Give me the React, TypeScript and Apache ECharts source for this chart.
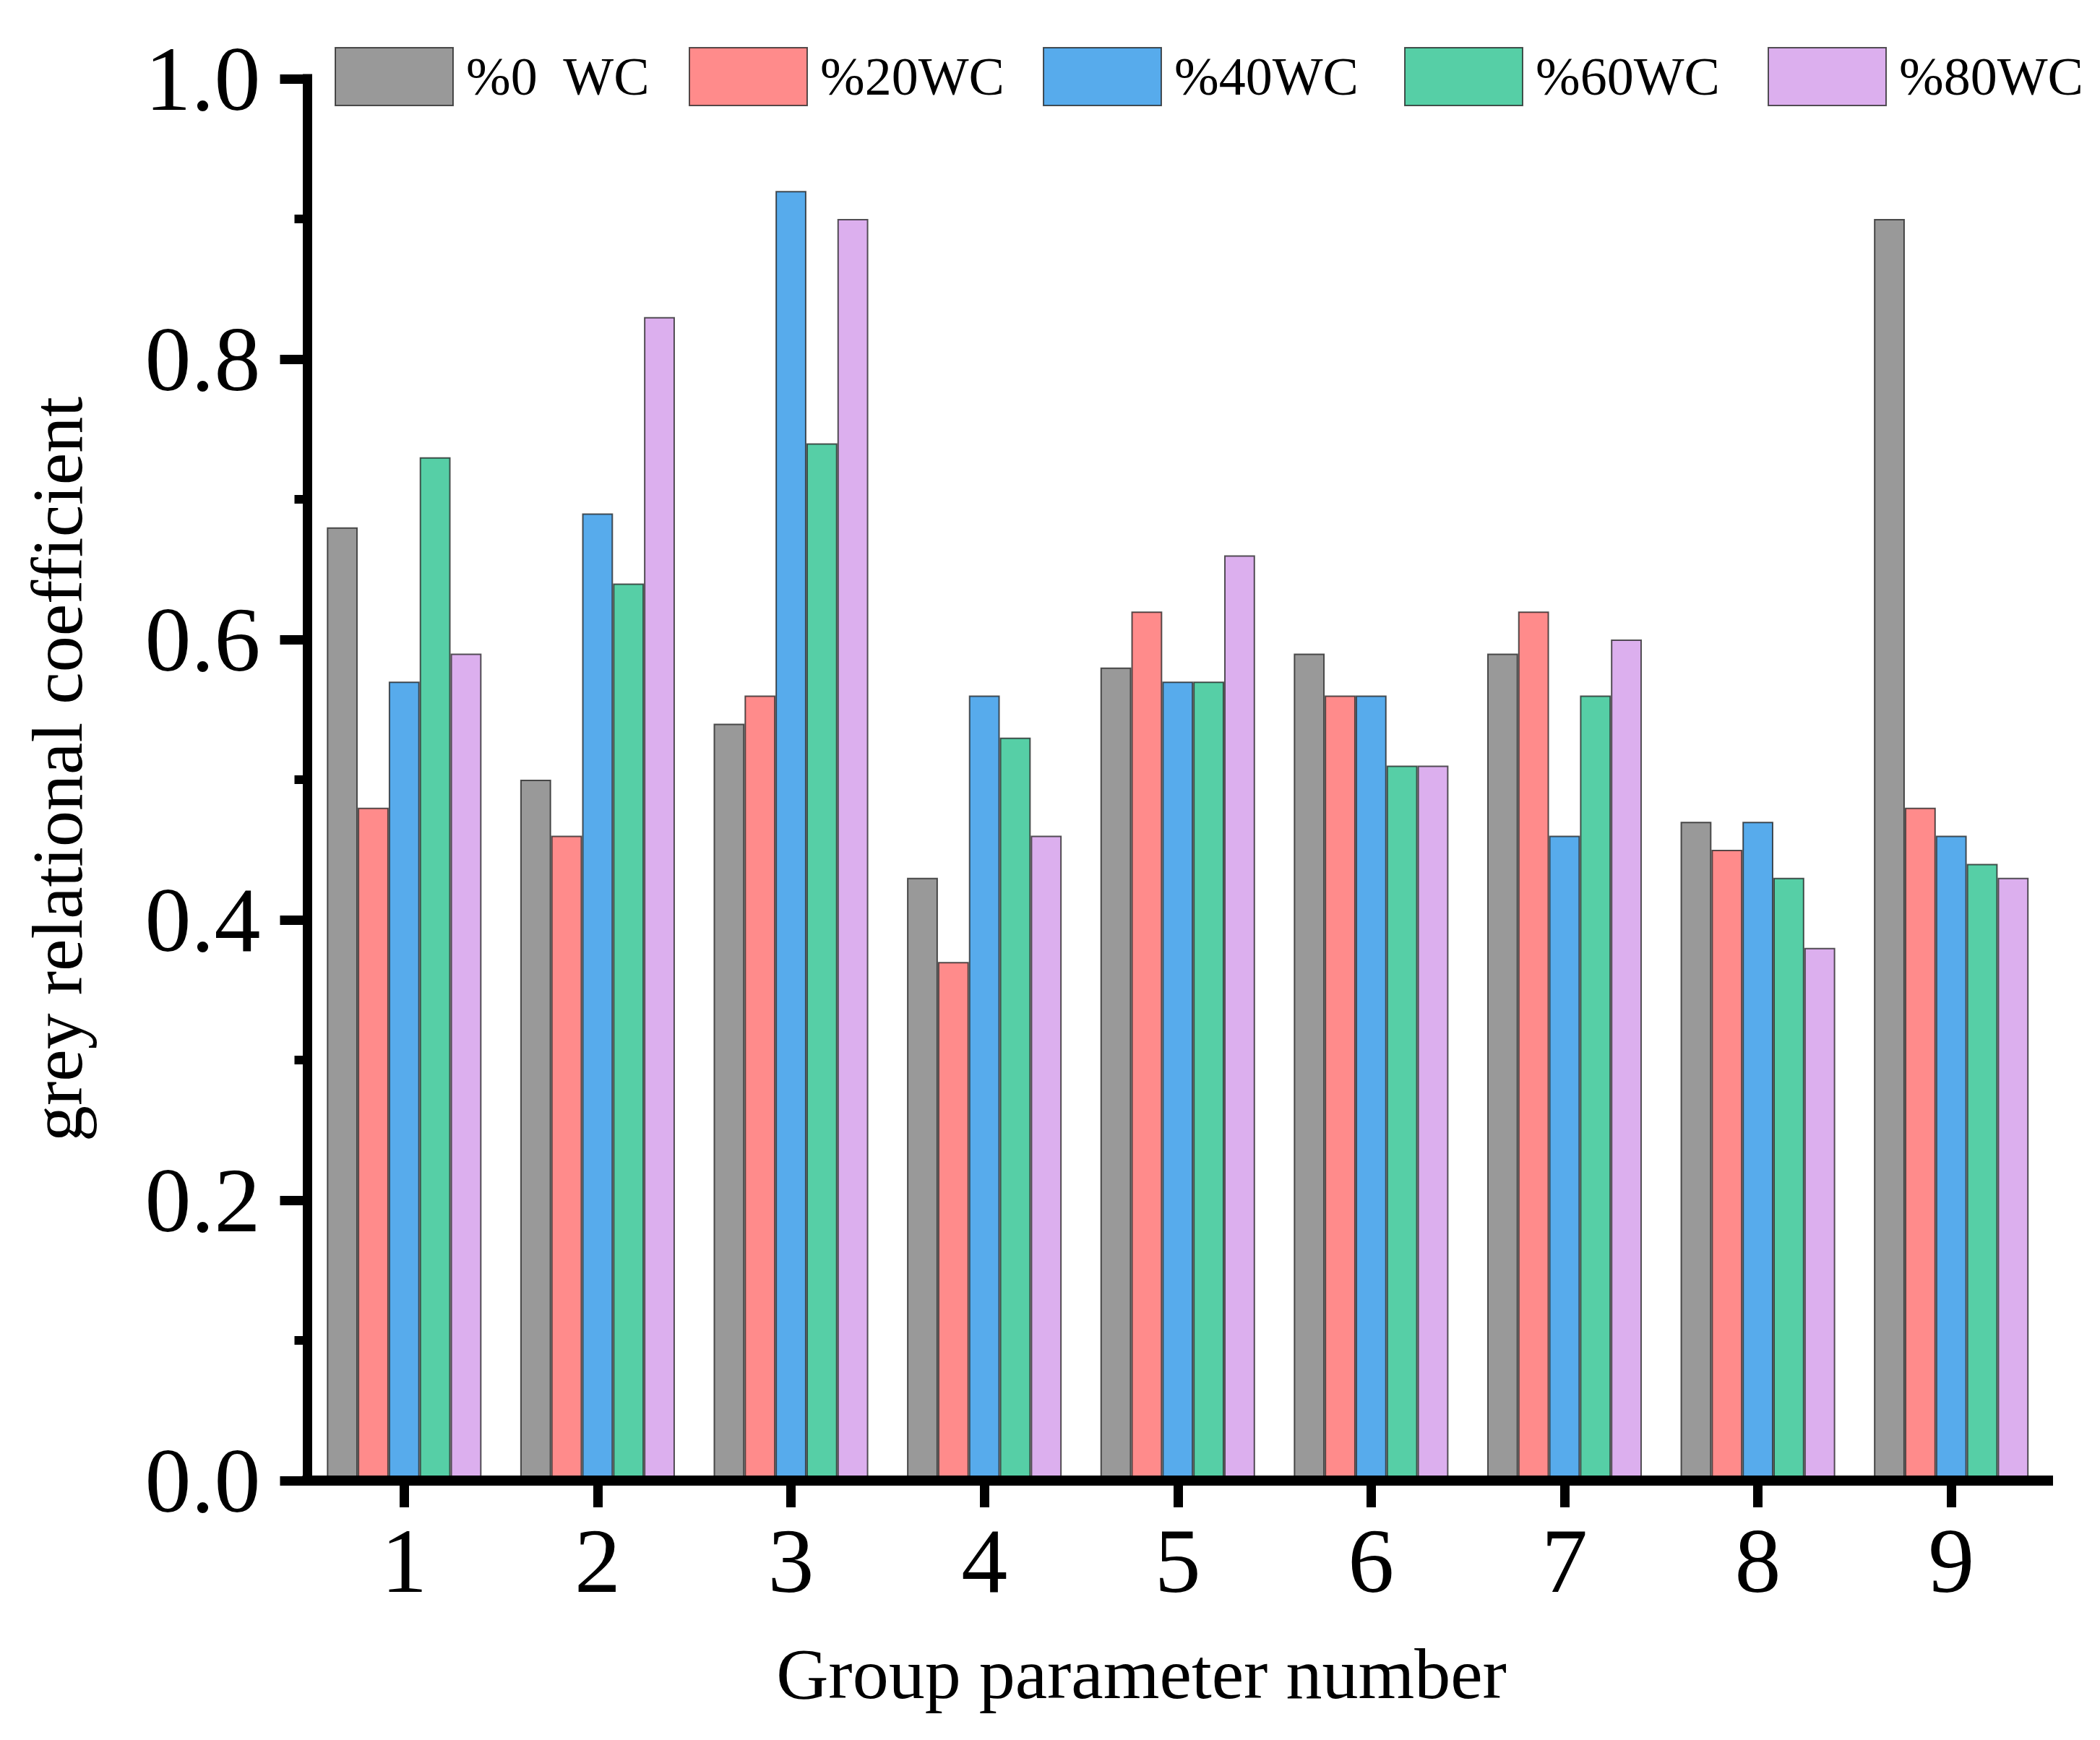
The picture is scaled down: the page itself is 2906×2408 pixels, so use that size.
import React, { useEffect, useRef } from "react";
import * as echarts from "echarts";

const categories = ["1", "2", "3", "4", "5", "6", "7", "8", "9"];
const seriesNames = ["%0  WC", "%20WC", "%40WC", "%60WC", "%80WC"];
const wc0 = [0.68, 0.5, 0.54, 0.43, 0.58, 0.59, 0.59, 0.47, 0.9];
const wc20 = [0.48, 0.46, 0.56, 0.37, 0.62, 0.56, 0.62, 0.45, 0.48];
const wc40 = [0.57, 0.69, 0.92, 0.56, 0.57, 0.56, 0.46, 0.47, 0.46];
const wc60 = [0.73, 0.64, 0.74, 0.53, 0.57, 0.51, 0.56, 0.43, 0.44];
const wc80 = [0.59, 0.83, 0.9, 0.46, 0.66, 0.51, 0.6, 0.38, 0.43];
const seriesValues = [wc0, wc20, wc40, wc60, wc80];
const colors = ["#999999", "#FF8B8B", "#57ABEC", "#56CFA6", "#DCAFEE"];
const yTicks = [0, 0.2, 0.4, 0.6, 0.8, 1.0];
const xTitle = "Group parameter number";
const yTitle = "grey relational coefficient";

const FONT = '"Times New Roman", "Liberation Serif", serif';
const legendLefts = [463, 953, 1443, 1943, 2446];

export default function App() {
  const ref = useRef<HTMLDivElement>(null);
  useEffect(() => {
    if (!ref.current) return;
    const chart = echarts.init(ref.current, null, { renderer: "svg" });
    const axisColor = "#000";
    const option: any = {
      animation: false,
      backgroundColor: "#fff",
      grid: {
        left: 425.5,
        top: 109,
        right: 72,
        bottom: 359,
        containLabel: false,
        outerBoundsMode: "none",
      },
      legend: seriesNames.map((n, i) => ({
        data: [{ name: n, icon: "rect" }],
        left: legendLefts[i],
        top: 65,
        padding: 0,
        itemWidth: 163,
        itemHeight: 80,
        selectedMode: false,
        textStyle: {
          fontFamily: FONT,
          fontSize: 74,
          color: "#000",
          padding: [0, 0, 0, 13],
        },
      })),
      xAxis: {
        type: "category",
        data: categories,
        z: 10,
        axisLine: { show: true, lineStyle: { color: axisColor, width: 14, cap: "square" } },
        axisTick: { show: true, alignWithLabel: true, length: 37, lineStyle: { color: axisColor, width: 13 } },
        axisLabel: { fontFamily: FONT, fontSize: 128, color: "#000", margin: 47 },
        splitLine: { show: false },
      },
      yAxis: {
        type: "value",
        min: 0,
        max: 1,
        interval: 0.2,
        z: 10,
        axisLine: { show: true, lineStyle: { color: axisColor, width: 13, cap: "square" } },
        axisTick: { show: true, length: 38, lineStyle: { color: axisColor, width: 13 } },
        minorTick: { show: true, splitNumber: 2, length: 18, lineStyle: { color: axisColor, width: 12 } },
        axisLabel: {
          fontFamily: FONT,
          fontSize: 128,
          color: "#000",
          margin: 65,
          formatter: (v: number) => {
            const t = yTicks.find((k) => Math.abs(k - v) < 1e-6);
            return (t !== undefined ? t : v).toFixed(1);
          },
        },
        splitLine: { show: false },
        minorSplitLine: { show: false },
      },
      series: seriesNames.map((n, i) => ({
        name: n,
        type: "bar",
        data: seriesValues[i],
        barGap: "0%",
        barCategoryGap: "20%",
        itemStyle: {
          color: colors[i],
          borderColor: "rgba(30,30,30,0.75)",
          borderWidth: 2,
        },
        emphasis: { disabled: true },
      })),
      graphic: [
        {
          type: "text",
          x: 1579.5,
          y: 2316,
          style: {
            text: xTitle,
            fontFamily: FONT,
            fontSize: 100,
            fill: "#000",
            textAlign: "center",
            textVerticalAlign: "middle",
            verticalAlign: "middle",
          },
        },
        {
          type: "text",
          x: 79,
          y: 1064.5,
          rotation: Math.PI / 2,
          style: {
            text: yTitle,
            fontFamily: FONT,
            fontSize: 100,
            fill: "#000",
            textAlign: "center",
            textVerticalAlign: "middle",
            verticalAlign: "middle",
          },
        },
      ],
    };
    chart.setOption(option);
    return () => chart.dispose();
  }, []);
  return (
    <div
      ref={ref}
      style={{ position: "fixed", left: 0, top: 0, width: 2906, height: 2408, background: "#fff" }}
    />
  );
}
